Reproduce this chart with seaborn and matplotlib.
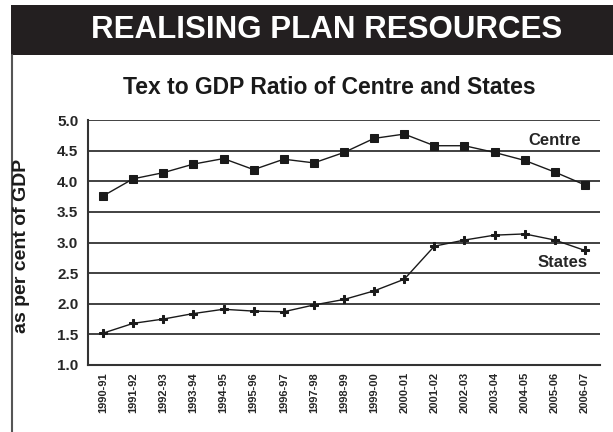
import matplotlib
matplotlib.use("Agg")
import matplotlib.pyplot as plt
from matplotlib.patches import Rectangle
from matplotlib.lines import Line2D
import numpy as np
import pandas as pd
import seaborn as sns

years = ["1990-91", "1991-92", "1992-93", "1993-94", "1994-95", "1995-96",
         "1996-97", "1997-98", "1998-99", "1999-00", "2000-01", "2001-02",
         "2002-03", "2003-04", "2004-05", "2005-06", "2006-07"]
centre = [3.76, 4.04, 4.14, 4.28, 4.37, 4.19, 4.36, 4.30, 4.47, 4.70, 4.77,
          4.58, 4.58, 4.47, 4.34, 4.15, 3.94]
states = [1.52, 1.68, 1.75, 1.84, 1.91, 1.88, 1.87, 1.98, 2.07, 2.21, 2.40,
          2.94, 3.04, 3.12, 3.14, 3.04, 2.87]
yticks = [1.0, 1.5, 2.0, 2.5, 3.0, 3.5, 4.0, 4.5, 5.0]

sns.set_style("white")
plt.rcParams['font.family'] = ['Liberation Sans', 'DejaVu Sans']

fig = plt.figure(figsize=(6.13, 4.32), dpi=100)
W, H = 613, 432

# header band
fig.patches.append(Rectangle((11 / W, 1 - 55 / H), 1 - 11 / W, 50 / H,
                             transform=fig.transFigure, facecolor="#231f20",
                             edgecolor="none", zorder=0))
fig.text(327 / W, 1 - 30 / H, "REALISING PLAN RESOURCES", color="white",
         fontsize=22.5, fontweight="bold", ha="center", va="center")
fig.lines.append(Line2D([12 / W, 12 / W], [0, 1 - 55 / H], transform=fig.transFigure,
                        color="#555555", lw=1.5))
fig.text(329 / W, 1 - 88 / H, "Tex to GDP Ratio of Centre and States",
         fontsize=16.5, fontweight="bold", ha="center", va="center", color="#1a1a1a")

ax = fig.add_axes([88 / W, 1 - 365 / H, 512 / W, 245 / H])

df_c = pd.DataFrame({"year": years, "value": centre})
df_s = pd.DataFrame({"year": years, "value": states})
sns.lineplot(data=df_c, x="year", y="value", ax=ax, color="#1a1a1a", lw=1.0,
             marker="s", markersize=6, markeredgecolor="#1a1a1a", sort=False)
sns.lineplot(data=df_s, x="year", y="value", ax=ax, color="#1a1a1a", lw=1.0,
             marker="P", markersize=6, markeredgecolor="#1a1a1a", sort=False)

ax.set_xlim(-0.5, len(years) - 0.5)
ax.set_ylim(1.0, 5.0)
ax.set_yticks(yticks)
ax.set_yticklabels([f"{v:.1f}" for v in yticks], fontsize=11, fontweight="bold")
ax.yaxis.grid(True, color="#333333", lw=1.3)
ax.set_axisbelow(True)

ax.set_xticks(np.arange(-0.5, len(years), 1.0))
ax.set_xticklabels([])
ax.set_xticks(np.arange(len(years)), minor=True)
ax.set_xticklabels(years, minor=True, rotation=90, fontsize=8, fontweight="bold")
ax.tick_params(axis="x", which="major", length=3, width=1, color="#333333", direction="out")
ax.tick_params(axis="x", which="minor", length=0, pad=5)
ax.tick_params(axis="y", length=4, width=1, color="#333333", direction="out", pad=3)

for side in ["top", "right"]:
    ax.spines[side].set_visible(False)
for side in ["left", "bottom"]:
    ax.spines[side].set_color("#333333")
    ax.spines[side].set_linewidth(1.5)

ax.set_xlabel("")
ax.set_ylabel("")
fig.text(22 / W, 1 - 246 / H, "as per cent of GDP", rotation=90, fontsize=14,
         fontweight="bold", ha="center", va="center", color="#1a1a1a")

ax.text(15, 4.66, "Centre", fontsize=12, fontweight="bold", ha="center", va="center")
ax.text(15.25, 2.68, "States", fontsize=12, fontweight="bold", ha="center", va="center")

fig.savefig("out.png", dpi=100)
